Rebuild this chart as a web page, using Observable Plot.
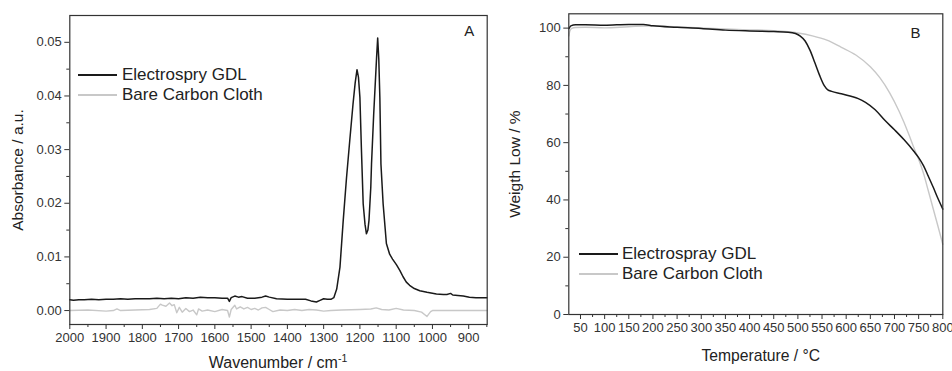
<!DOCTYPE html>
<html>
<head>
<meta charset="utf-8">
<script src="https://cdn.jsdelivr.net/npm/d3@7"></script>
<script src="https://cdn.jsdelivr.net/npm/@observablehq/plot@0.6"></script>
<style>
  body { margin: 0; background: #fff; }
  #wrap { position: relative; width: 952px; height: 371px; font-family: "Liberation Sans", Arial, sans-serif; color: #222; }
  .panel { position: absolute; top: 0; }
  .legline { position: absolute; height: 0; border-top: 2px solid; }
  .legtext { position: absolute; font-size: 17px; line-height: 20px; white-space: nowrap; color: #222; }
</style>
</head>
<body>
<div id="wrap">
  <div id="panelA" class="panel" style="left:0px"></div>
  <div id="panelB" class="panel" style="left:490px"></div>

  <div class="legline" style="left:78px; top:74px; width:39px; border-color:#1a1a1a"></div>
  <div class="legtext" style="left:122px; top:65px">Electrospry GDL</div>
  <div class="legline" style="left:78px; top:94px; width:39px; border-color:#c8c8c8"></div>
  <div class="legtext" style="left:122px; top:85px">Bare Carbon Cloth</div>

  <div class="legline" style="left:579px; top:253px; width:39px; border-color:#1a1a1a"></div>
  <div class="legtext" style="left:622px; top:244px">Electrospray GDL</div>
  <div class="legline" style="left:579px; top:273px; width:39px; border-color:#c8c8c8"></div>
  <div class="legtext" style="left:622px; top:264px">Bare Carbon Cloth</div>
</div>
<script>
// ---------- Panel A: FTIR ----------
const wnGDL = [
  2000,1990,1975,1960,1940,1920,1900,1880,1860,1840,
  1820,1800,1780,1760,1740,1720,1700,1680,1660,1640,
  1620,1600,1580,1565,1560,1555,1545,1535,1525,1510,
  1490,1470,1460,1450,1430,1400,1370,1350,1335,1320,
  1310,1300,1290,1280,1272,1264,1255,1246,1237,1228,
  1219,1213,1208,1204,1200,1196,1191,1186,1182,1178,
  1175,1170,1168,1162,1154,1151,1148,1145,1142,1136,
  1127,1118,1110,1099,1090,1081,1072,1063,1050,1035,
  1015,989,970,960,950,944,930,915,898,880,
  865,850
];
const absGDL = [
  0.0020,0.0019,0.0020,0.0020,0.0021,0.0020,0.0021,0.0021,0.0022,0.0021,
  0.0022,0.0022,0.0022,0.0023,0.0022,0.0023,0.0022,0.0024,0.0023,0.0025,
  0.0024,0.0024,0.0023,0.0023,0.0017,0.0024,0.0027,0.0025,0.0026,0.0023,
  0.0023,0.0025,0.0027,0.0025,0.0022,0.0021,0.0021,0.0021,0.0018,0.0016,
  0.0019,0.0022,0.0021,0.0021,0.0024,0.0040,0.0081,0.0168,0.0247,0.0317,
  0.0385,0.0425,0.0449,0.0435,0.0397,0.0304,0.0199,0.0161,0.0143,0.0150,
  0.0168,0.0230,0.0273,0.0366,0.0472,0.0508,0.0470,0.0397,0.0273,0.0199,
  0.0125,0.0105,0.0096,0.0085,0.0075,0.0063,0.0053,0.0047,0.0041,0.0037,
  0.0034,0.0031,0.0030,0.0030,0.0032,0.0029,0.0028,0.0027,0.0025,0.0024,
  0.0024,0.0024
];
const wnBare = [
  2000,1950,1900,1880,1870,1860,1820,1780,1760,1750,
  1745,1735,1725,1718,1712,1705,1698,1690,1680,1670,
  1660,1650,1645,1635,1620,1600,1580,1565,1560,1555,
  1545,1540,1530,1520,1510,1500,1490,1480,1470,1460,
  1450,1440,1420,1400,1380,1360,1340,1320,1300,1280,
  1250,1200,1170,1155,1140,1120,1100,1080,1050,1030,
  1015,1005,1000,950,900,850
];
const absBare = [
  0.0000,0.0001,-0.0001,0.0000,0.0003,0.0000,0.0001,0.0002,0.0004,0.0012,
  0.0010,0.0008,0.0014,0.0009,0.0011,-0.0004,0.0006,-0.0003,0.0004,-0.0002,
  0.0001,-0.0008,0.0003,-0.0001,0.0001,-0.0002,0.0002,0.0000,-0.0012,0.0002,
  0.0010,0.0003,0.0007,0.0003,0.0006,0.0002,0.0004,0.0001,0.0005,0.0006,
  0.0002,-0.0002,0.0001,0.0000,0.0002,0.0000,0.0002,0.0001,-0.0001,0.0000,
  0.0001,0.0002,0.0003,0.0005,0.0002,0.0001,0.0004,0.0001,0.0000,-0.0003,
  -0.0011,-0.0002,0.0000,0.0000,0.0000,0.0000
];
const xMajorA = [2000,1900,1800,1700,1600,1500,1400,1300,1200,1100,1000,900];
const xMinorA = [1950,1850,1750,1650,1550,1450,1350,1250,1150,1050,950,850];
const yMajorA = [0.00,0.01,0.02,0.03,0.04,0.05];
const yMinorA = [0.005,0.015,0.025,0.035,0.045];

// ---------- Panel B: TGA ----------
const tGDL = [
  26,30,40,60,100,150,180,200,250,300,
  350,400,450,480,495,505,515,525,535,545,
  555,562,570,590,610,625,640,660,680,700,
  720,740,750,760,770,780,790,800
];
const wGDL = [
  99.8,100.8,101.2,101.2,101.0,101.3,101.3,100.8,100.3,99.9,
  99.3,99.0,98.8,98.6,98.1,97.2,95.5,92.3,88.0,83.5,
  79.8,78.4,77.9,77.1,76.2,75.4,74.1,71.5,67.8,64.5,
  61.0,57.0,54.8,52.0,48.3,44.5,40.5,36.8
];
const tBare = [
  26,28,32,40,60,100,150,200,250,300,
  350,400,450,500,530,560,590,620,650,670,
  690,710,730,740,750,760,770,780,790,800
];
const wBare = [
  97.3,99.0,99.9,100.2,100.3,100.1,100.5,100.8,100.4,100.1,
  99.7,99.4,99.1,98.3,97.3,95.8,93.3,90.6,86.5,82.6,
  77.4,70.8,62.8,58.3,54.2,49.3,43.2,37.0,30.8,24.5
];
const xMajorB = [50,100,150,200,250,300,350,400,450,500,550,600,650,700,750,800];
const xMinorB = [75,125,175,225,275,325,375,425,475,525,575,625,675,725,775];
const yMajorB = [0,20,40,60,80,100];
const yMinorB = [10,30,50,70,90];

const dataGDL_A = d3.zip(wnGDL, absGDL).map(([x, y]) => ({x, y}));
const dataBare_A = d3.zip(wnBare, absBare).map(([x, y]) => ({x, y}));
const dataGDL_B = d3.zip(tGDL, wGDL).map(([x, y]) => ({x, y}));
const dataBare_B = d3.zip(tBare, wBare).map(([x, y]) => ({x, y}));

const BLACK = "#1a1a1a", GRAY = "#c8c8c8", AX = "#333";
const style = {fontFamily: "'Liberation Sans', Arial, sans-serif", fontSize: "13px", color: "#333", background: "transparent", overflow: "visible"};

const plotA = Plot.plot({
  width: 490, height: 371,
  marginLeft: 69.3, marginRight: 3.3, marginTop: 15, marginBottom: 47,
  x: {domain: [2000, 849]},
  y: {domain: [-0.0026, 0.055]},
  style,
  marks: [
    Plot.axisX(xMinorA, {tickSize: 3, tickFormat: () => "", label: null, stroke: AX}),
    Plot.axisX(xMajorA, {tickSize: 5, tickPadding: 3, tickFormat: d => String(d), label: null, stroke: AX}),
    Plot.axisY(yMinorA, {tickSize: 3, tickFormat: () => "", label: null, stroke: AX}),
    Plot.axisY(yMajorA, {tickSize: 5, tickPadding: 3, tickFormat: d3.format(".2f"), label: null, stroke: AX}),
    Plot.line(dataBare_A, {x: "x", y: "y", stroke: GRAY, strokeWidth: 1.4}),
    Plot.line(dataGDL_A, {x: "x", y: "y", stroke: BLACK, strokeWidth: 1.5}),
    Plot.frame({stroke: AX, strokeWidth: 1.2}),
    Plot.text(["A"], {text: d => d, frameAnchor: "top-right", textAnchor: "middle", lineAnchor: "middle", dx: -18, dy: 16, fontSize: 15, fill: "#222"}),
    Plot.text(["Absorbance / a.u."], {text: d => d, frameAnchor: "left", textAnchor: "middle", lineAnchor: "middle", rotate: -90, dx: -51.8, fontSize: 15.5, fill: "#222"})
  ]
});
document.getElementById("panelA").appendChild(plotA);
{
  const t = d3.select(plotA).append("text")
    .attr("x", 278).attr("y", 368).attr("text-anchor", "middle")
    .attr("font-size", 16).attr("fill", "#222");
  t.append("tspan").text("Wavenumber / cm");
  t.append("tspan").attr("dy", -6).attr("font-size", 10.5).text("-1");
}

const plotB = Plot.plot({
  width: 462, height: 371,
  marginLeft: 78.3, marginRight: 9.7, marginTop: 13.3, marginBottom: 57,
  x: {domain: [25.8, 800]},
  y: {domain: [0, 105]},
  style,
  marks: [
    Plot.axisX(xMinorB, {tickSize: 3, tickFormat: () => "", label: null, stroke: AX}),
    Plot.axisX(xMajorB, {tickSize: 5, tickPadding: 3, tickFormat: d => String(d), label: null, stroke: AX}),
    Plot.axisY(yMinorB, {tickSize: 3, tickFormat: () => "", label: null, stroke: AX}),
    Plot.axisY(yMajorB, {tickSize: 5, tickPadding: 3, tickFormat: d => String(d), label: null, stroke: AX}),
    Plot.line(dataBare_B, {x: "x", y: "y", stroke: GRAY, strokeWidth: 1.4, curve: "monotone-x"}),
    Plot.line(dataGDL_B, {x: "x", y: "y", stroke: BLACK, strokeWidth: 1.5, curve: "monotone-x"}),
    Plot.frame({stroke: AX, strokeWidth: 1.2}),
    Plot.text(["B"], {text: d => d, frameAnchor: "top-right", textAnchor: "middle", lineAnchor: "middle", dx: -27.3, dy: 19.7, fontSize: 15, fill: "#222"}),
    Plot.text(["Weigth Low / %"], {text: d => d, frameAnchor: "left", textAnchor: "middle", lineAnchor: "middle", rotate: -90, dx: -53.3, fontSize: 15.5, fill: "#222"}),
    Plot.text(["Temperature / °C"], {text: d => d, frameAnchor: "bottom", textAnchor: "middle", lineAnchor: "bottom", dx: 5, dy: 46, fontSize: 15.7, fill: "#222"})
  ]
});
document.getElementById("panelB").appendChild(plotB);
</script>
</body>
</html>
